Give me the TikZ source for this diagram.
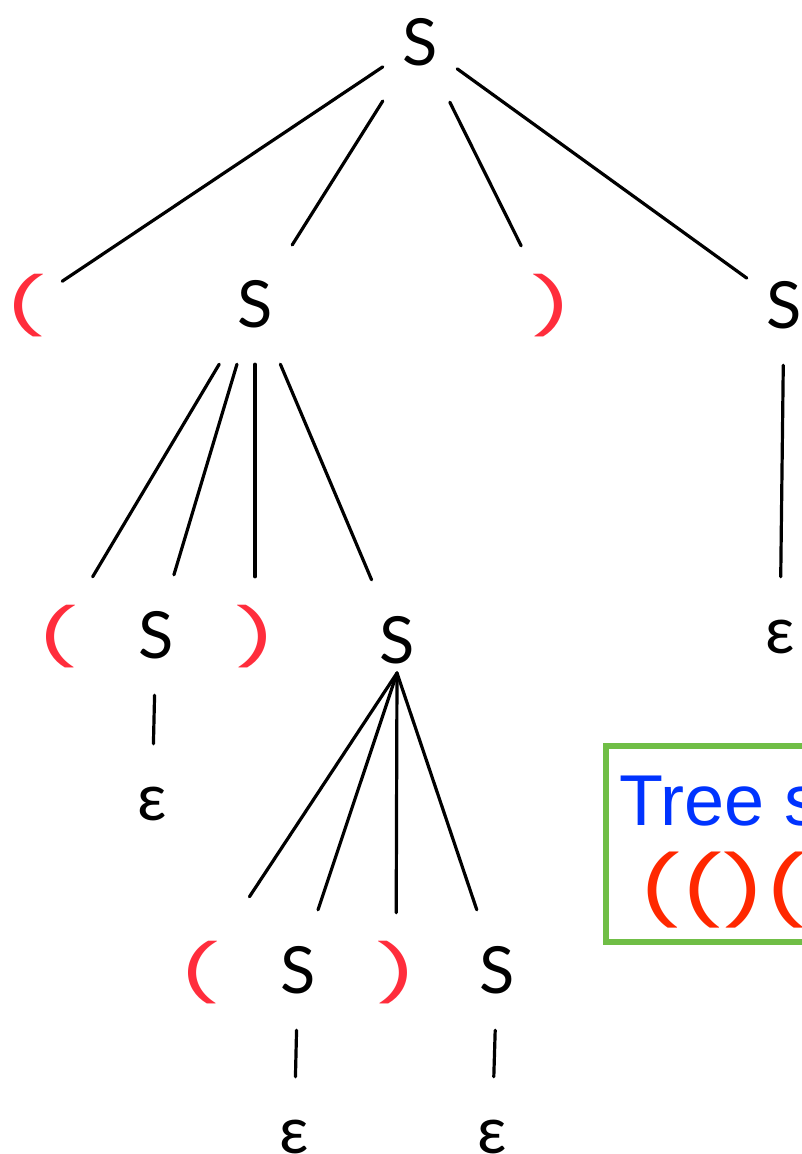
\documentclass[tikz,border=0pt]{standalone}
\usepackage{fontspec}
\usepackage{graphicx}
\setmainfont{Lato}
\newfontfamily\parenfont{Poppins}
\newfontfamily\boxfont{Liberation Sans}
\definecolor{parenred}{RGB}{255,45,60}
\definecolor{stringred}{RGB}{255,40,0}
\definecolor{treeblue}{RGB}{0,51,255}
\definecolor{boxgreen}{RGB}{112,190,70}
% parentheses are set a little wider than the font draws them
\newcommand{\wparen}[1]{\scalebox{1.65}[1]{#1}}
% one parenthesis of the bracket string, in a cell of fixed width
\newcommand{\sparen}[1]{\makebox[42pt][c]{\scalebox{1.45}[1]{#1}}}
\begin{document}
\begin{tikzpicture}[x=1pt,y=-1pt,
  sym/.style={inner sep=0pt, minimum width=74pt, minimum height=120pt,
              font=\fontsize{65}{70}\selectfont},
  paren/.style={sym, text=parenred, font=\parenfont\fontsize{56}{60}\selectfont},
  edge/.style={line width=3.2pt, line cap=round}]
\useasboundingbox (0,0) rectangle (802,1154);
\clip (0,0) rectangle (802,1154);

% root
\node[sym] (r) at (420,42) {S};

% first level
\node[paren] (a1) at (25,306) {\wparen{(}};
\node[sym]   (a2) at (255,304) {S};
\node[paren] (a3) at (551,306) {\wparen{)}};
\node[sym]   (a4) at (784,305) {S};

% second level, under a2
\node[paren] (b1) at (57,637) {\wparen{(}};
\node[sym]   (b2) at (156,635) {S};
\node[paren] (b3) at (255,637) {\wparen{)}};
\node[sym]   (b4) at (397,640) {S};
\node[sym]   (b2e) at (152,804) {ε};

% epsilon under a4
\node[sym]   (a4e) at (780,637) {ε};

% third level, under b4
\coordinate (fork) at ([yshift=-33pt]b4.center);
\node[paren] (c1) at (199,973) {\wparen{(}};
\node[sym]   (c2) at (298,970) {S};
\node[paren] (c3) at (396,973) {\wparen{)}};
\node[sym]   (c4) at (497,970) {S};
\node[sym]   (c2e) at (294,1137) {ε};
\node[sym]   (c4e) at (492,1137) {ε};

% edges
\draw[edge] (r) -- (a1);
\draw[edge] (r) -- (a2);
\draw[edge] (r) -- (a3);
\draw[edge] (r) -- (a4);
\draw[edge] (a2) -- (b1);
\draw[edge] (a2) -- (b2);
\draw[edge] (a2) -- (b3);
\draw[edge] (a2) -- (b4);
\draw[edge] (b2) -- (b2e);
\draw[edge] (a4) -- (a4e);
\draw[edge, shorten >=24pt] (fork) -- (c1);
\draw[edge] (fork) -- (c2);
\draw[edge] (fork) -- (c3);
\draw[edge] (fork) -- (c4);
\draw[edge] (c2) -- (c2e);
\draw[edge] (c4) -- (c4e);

% framed note
\draw[boxgreen, line width=6pt] (606,746) rectangle (900,942);
\node[anchor=base west, inner sep=0pt, text=treeblue,
      font=\boxfont\fontsize{72}{80}\selectfont] (title) at (619,825) {Tree s};
\node[anchor=west, inner sep=0pt, text=stringred,
      font=\parenfont\fontsize{68}{72}\selectfont] (str) at (639,890)
      {\sparen{(}\sparen{(}\sparen{)}\sparen{(}};
\end{tikzpicture}
\end{document}
